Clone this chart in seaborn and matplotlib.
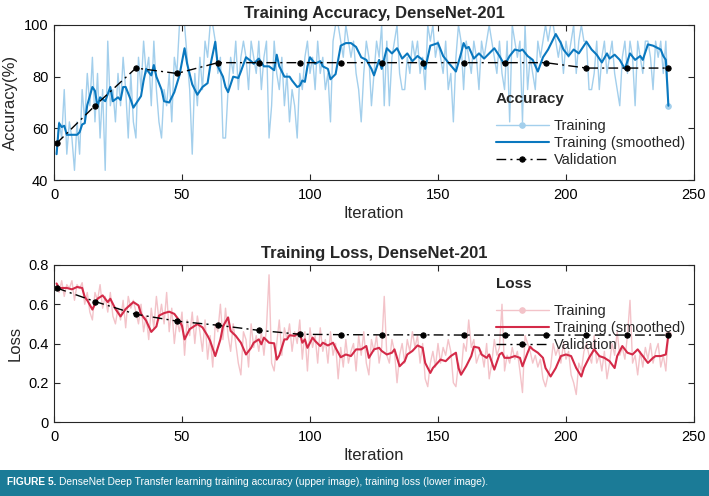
import numpy as np
import pandas as pd
import matplotlib
matplotlib.use("Agg")
import matplotlib.pyplot as plt
from matplotlib.patches import Rectangle
import seaborn as sns

# ---- accuracy data ----
acc_raw = [
    50, 62.5, 56.25, 75, 50, 62.5, 56.25, 43.75, 62.5, 50,
    75, 62.5, 81.25, 68.75, 87.5, 62.5, 81.25, 56.25, 75, 43.75,
    93.75, 68.75, 75, 62.5, 81.25, 68.75, 87.5, 75, 56.25, 81.25,
    62.5, 56.25, 87.5, 75, 93.75, 81.25, 87.5, 68.75, 93.75, 75,
    62.5, 56.25, 75, 68.75, 81.25, 62.5, 87.5, 81.25, 100, 100,
    100, 87.5, 75, 50, 81.25, 68.75, 87.5, 75, 93.75, 87.5,
    100, 100, 93.75, 81.25, 87.5, 56.25, 56.25, 75, 87.5, 81.25,
    93.75, 75, 87.5, 93.75, 87.5, 75, 93.75, 87.5, 81.25, 93.75,
    75, 87.5, 93.75, 56.25, 68.75, 93.75, 81.25, 75, 87.5, 68.75,
    81.25, 62.5, 75, 68.75, 56.25, 81.25, 75, 87.5, 93.75, 81.25,
    87.5, 75, 93.75, 81.25, 87.5, 75, 81.25, 62.5, 93.75, 100,
    100, 93.75, 87.5, 100, 93.75, 87.5, 93.75, 81.25, 75, 62.5,
    81.25, 93.75, 87.5, 68.75, 81.25, 93.75, 87.5, 100, 68.75, 93.75,
    68.75, 87.5, 93.75, 100, 81.25, 75, 75, 87.5, 81.25, 93.75,
    87.5, 93.75, 81.25, 87.5, 75, 100, 93.75, 100, 87.5, 93.75,
    87.5, 81.25, 93.75, 75, 81.25, 62.5, 87.5, 100, 93.75, 75,
    93.75, 87.5, 81.25, 93.75, 87.5, 75, 93.75, 87.5, 93.75, 100,
    93.75, 87.5, 81.25, 93.75, 81.25, 75, 93.75, 62.5, 100, 93.75,
    87.5, 93.75, 62.5, 100, 75, 87.5, 81.25, 75, 93.75, 87.5,
    93.75, 100, 93.75, 100, 100, 93.75, 87.5, 93.75, 81.25, 93.75,
    87.5, 93.75, 100, 81.25, 93.75, 100, 93.75, 93.75, 75, 75,
    81.25, 93.75, 75, 87.5, 93.75, 81.25, 87.5, 93.75, 81.25, 75,
    68.75, 87.5, 93.75, 81.25, 93.75, 87.5, 68.75, 93.75, 87.5, 81.25,
    93.75, 93.75, 87.5, 75, 93.75, 87.5, 93.75, 81.25, 93.75, 68.75,
]

acc_smooth_it = [
    1, 2, 3, 4, 5, 9, 10, 11, 12, 13, 15, 16, 17, 18, 20, 22, 23, 25, 26, 27,
    28, 30, 31, 34, 35, 36, 38, 39, 40, 42, 43, 45, 47, 49, 51, 52, 54, 56, 58, 60,
    61, 63, 64, 66, 67, 68, 70, 72, 73, 75, 77, 78, 80, 82, 84, 86, 87, 88, 90, 92,
    93, 95, 96, 97, 98, 99, 100, 102, 104, 105, 107, 108, 110, 112, 114, 116, 118, 120, 122, 124,
    125, 127, 128, 130, 132, 134, 136, 138, 140, 142, 144, 145, 147, 150, 152, 154, 157, 159, 160, 161,
    162, 164, 166, 168, 170, 172, 174, 176, 178, 180, 182, 183, 185, 187, 189, 191, 193, 194, 196, 198,
    199, 201, 203, 205, 206, 208, 210, 212, 214, 216, 217, 219, 221, 223, 225, 227, 229, 230, 232, 234,
    237, 238, 239, 240,
]
acc_smooth = [
    50, 62, 60.5, 61, 57.5, 57.5, 58.5, 61.5, 62, 69, 76, 74.5, 68.5, 72, 70.5, 76, 70.5, 72, 71, 76,
    76, 71, 68, 72.5, 78.5, 83, 80.5, 84.5, 80, 75, 70.5, 70, 74, 80.5, 91, 85, 77, 73, 76, 77.5,
    84, 93.5, 84, 80, 76, 74, 80, 79.5, 82, 87.5, 86, 85, 87, 84, 84, 82.5, 88.5, 84, 80, 80,
    78.5, 76, 76.5, 78.5, 78, 84, 87.5, 85, 86, 84, 83, 79, 81, 92, 93, 93, 91.5, 87.5, 86.5, 83,
    80.5, 86.5, 83, 91, 89, 91, 87, 89, 86, 88, 86.5, 83, 92, 93, 88, 85.5, 82, 89, 93, 91,
    91.5, 87, 89, 87, 89, 91, 88, 84.5, 88, 90.5, 90, 90.5, 88, 86.5, 82, 87.5, 90.5, 92.5, 96.5, 93,
    90.5, 88, 90.5, 89, 90.5, 93.5, 90.5, 88.5, 85.5, 89, 87, 88.5, 86.5, 83, 89, 86.5, 88, 86.5, 92.5, 92,
    90.5, 88, 86.5, 68.75,
]

val_it = [1, 16, 32, 48, 64, 80, 96, 112, 128, 144, 160, 176, 192, 208, 224, 240]
acc_val = [54.17, 68.75, 83.33, 81.25, 85.42, 85.42, 85.42, 85.42, 85.42,
           85.42, 85.42, 85.42, 85.42, 83.33, 83.33, 83.33]

# ---- loss data ----
loss_raw = [
    0.70, 0.66, 0.72, 0.64, 0.70, 0.68, 0.72, 0.62, 0.70, 0.68,
    0.71, 0.60, 0.66, 0.56, 0.52, 0.66, 0.62, 0.70, 0.58, 0.64,
    0.56, 0.66, 0.54, 0.50, 0.58, 0.52, 0.62, 0.48, 0.64, 0.58,
    0.62, 0.56, 0.50, 0.60, 0.46, 0.54, 0.42, 0.58, 0.48, 0.64,
    0.52, 0.60, 0.50, 0.66, 0.46, 0.58, 0.40, 0.52, 0.46, 0.56,
    0.34, 0.52, 0.44, 0.56, 0.40, 0.54, 0.46, 0.36, 0.52, 0.32,
    0.44, 0.28, 0.50, 0.46, 0.60, 0.42, 0.58, 0.44, 0.36, 0.50,
    0.40, 0.30, 0.24, 0.46, 0.42, 0.28, 0.50, 0.38, 0.44, 0.36,
    0.46, 0.34, 0.48, 0.75, 0.30, 0.26, 0.40, 0.52, 0.34, 0.48,
    0.42, 0.50, 0.36, 0.46, 0.40, 0.52, 0.32, 0.46, 0.26, 0.48,
    0.38, 0.44, 0.30, 0.48, 0.36, 0.42, 0.30, 0.46, 0.34, 0.40,
    0.22, 0.38, 0.28, 0.42, 0.30, 0.36, 0.40, 0.26, 0.44, 0.34,
    0.46, 0.30, 0.24, 0.42, 0.36, 0.44, 0.30, 0.38, 0.64, 0.34,
    0.30, 0.42, 0.36, 0.20, 0.34, 0.40, 0.30, 0.42, 0.36, 0.46,
    0.38, 0.44, 0.30, 0.40, 0.22, 0.18, 0.30, 0.36, 0.28, 0.40,
    0.30, 0.38, 0.34, 0.42, 0.36, 0.20, 0.18, 0.30, 0.24, 0.40,
    0.36, 0.52, 0.38, 0.42, 0.30, 0.34, 0.36, 0.28, 0.40, 0.22,
    0.30, 0.42, 0.34, 0.38, 0.60, 0.26, 0.34, 0.30, 0.38, 0.32,
    0.36, 0.26, 0.15, 0.44, 0.40, 0.36, 0.30, 0.34, 0.28, 0.32,
    0.22, 0.18, 0.24, 0.28, 0.40, 0.34, 0.38, 0.30, 0.40, 0.32,
    0.36, 0.24, 0.20, 0.14, 0.30, 0.26, 0.36, 0.40, 0.34, 0.30,
    0.44, 0.30, 0.34, 0.26, 0.36, 0.22, 0.30, 0.40, 0.34, 0.46,
    0.34, 0.38, 0.32, 0.44, 0.62, 0.30, 0.34, 0.24, 0.36, 0.28,
    0.38, 0.32, 0.40, 0.30, 0.36, 0.40, 0.28, 0.34, 0.26, 0.45,
]

loss_smooth_it = [
    1, 2, 5, 7, 9, 11, 12, 13, 15, 17, 19, 20, 21, 22, 24, 26, 28, 31, 33, 34,
    36, 38, 40, 41, 43, 45, 47, 49, 50, 51, 53, 56, 58, 60, 61, 63, 65, 66, 68, 69,
    71, 73, 75, 77, 78, 80, 81, 82, 84, 86, 87, 88, 90, 91, 92, 94, 96, 97, 98, 99,
    101, 102, 104, 105, 107, 109, 110, 112, 114, 116, 118, 120, 122, 123, 125, 127, 128, 130, 132, 133,
    135, 137, 138, 140, 142, 144, 145, 147, 148, 151, 153, 155, 157, 158, 159, 161, 163, 164, 166, 167,
    169, 170, 172, 174, 175, 176, 178, 180, 182, 183, 185, 186, 187, 189, 191, 192, 194, 196, 198, 200,
    202, 204, 206, 207, 209, 211, 213, 215, 217, 219, 220, 222, 224, 226, 228, 230, 232, 234, 235, 237,
    239, 240,
]
loss_smooth = [
    0.706, 0.683, 0.683, 0.676, 0.688, 0.683, 0.637, 0.62, 0.573, 0.628, 0.645, 0.628, 0.611, 0.628, 0.576, 0.538, 0.576, 0.611, 0.594, 0.551,
    0.516, 0.459, 0.487, 0.542, 0.555, 0.562, 0.551, 0.516, 0.49, 0.421, 0.473, 0.499, 0.482, 0.439, 0.413, 0.336, 0.421, 0.487, 0.533, 0.464,
    0.439, 0.404, 0.344, 0.378, 0.404, 0.421, 0.396, 0.43, 0.404, 0.401, 0.318, 0.339, 0.421, 0.421, 0.442, 0.439, 0.456, 0.404, 0.421, 0.378,
    0.43, 0.413, 0.387, 0.404, 0.39, 0.404, 0.378, 0.33, 0.344, 0.336, 0.37, 0.37, 0.387, 0.327, 0.37, 0.378, 0.362, 0.344, 0.353, 0.37,
    0.284, 0.31, 0.344, 0.362, 0.39, 0.378, 0.301, 0.25, 0.275, 0.318, 0.31, 0.336, 0.353, 0.275, 0.241, 0.284, 0.336, 0.384, 0.378, 0.344,
    0.327, 0.344, 0.267, 0.344, 0.353, 0.327, 0.327, 0.336, 0.327, 0.284, 0.353, 0.384, 0.37, 0.353, 0.327, 0.275, 0.232, 0.275, 0.336, 0.344,
    0.336, 0.275, 0.232, 0.275, 0.327, 0.37, 0.336, 0.327, 0.31, 0.275, 0.336, 0.387, 0.353, 0.344, 0.37, 0.336, 0.301, 0.327, 0.336, 0.336,
    0.344, 0.447,
]

loss_val = [0.683, 0.614, 0.549, 0.514, 0.493, 0.467, 0.447, 0.445, 0.444,
            0.444, 0.443, 0.443, 0.443, 0.443, 0.443, 0.443]

iters = np.arange(1, len(acc_raw) + 1)

sns.set_style("ticks")
plt.rcParams['font.family'] = ['Liberation Sans', 'DejaVu Sans']

W, H = 709, 496
fig = plt.figure(figsize=(W / 100, H / 100), dpi=100)
fig.patch.set_facecolor('white')

ax1 = fig.add_axes([54 / W, 1 - 180 / H, 640 / W, 155 / H])
ax2 = fig.add_axes([54 / W, 1 - 422 / H, 640 / W, 157 / H])

dashdot = (0, (7, 3, 1.5, 3))


def draw_panel(ax, raw, sm_x, sm_y, val, raw_c, sm_c, title, ylabel, ylim, yticks, leg_title, leg_xy):
    sns.lineplot(x=iters, y=raw, ax=ax, color=raw_c, lw=1.0, marker='o', markersize=4,
                 markeredgecolor=raw_c, markevery=[len(raw) - 1], label='Training')
    sns.lineplot(x=sm_x, y=sm_y, ax=ax, color=sm_c, lw=1.5, label='Training (smoothed)')
    sns.lineplot(x=val_it, y=val, ax=ax, color='black', lw=1.0, linestyle=dashdot,
                 marker='o', markersize=3.8, markeredgecolor='black', label='Validation')
    ax.set_xlim(0, 250)
    ax.set_ylim(*ylim)
    ax.set_xticks([0, 50, 100, 150, 200, 250])
    ax.set_yticks(yticks)
    ax.set_yticklabels([f'{t:g}' for t in yticks])
    ax.tick_params(direction='in', length=4, width=0.8, labelsize=10.5, pad=6,
                   top=True, right=True, colors='#262626', labelcolor='black')
    ax.tick_params(axis='y', pad=4)
    for s in ax.spines.values():
        s.set_visible(True)
        s.set_color('#262626')
        s.set_linewidth(0.8)
    ax.set_title(title, fontsize=12, fontweight='bold', pad=5)
    ax.set_xlabel('Iteration', fontsize=12, labelpad=3)
    ax.set_ylabel(ylabel, fontsize=12, labelpad=4)
    leg = ax.legend(loc='upper left', bbox_to_anchor=leg_xy, bbox_transform=fig.transFigure,
                    frameon=False, fontsize=10.5, title=leg_title, alignment='left',
                    title_fontproperties={'weight': 'bold', 'size': 11},
                    handlelength=3.6, handletextpad=0.35, labelspacing=0.2,
                    borderpad=0, borderaxespad=0)
    # extra room between the legend title and its entries
    leg._legend_box.sep = 9.5
    return leg


draw_panel(ax1, acc_raw, acc_smooth_it, acc_smooth, acc_val, '#a3cfec', '#0a78bf',
           'Training Accuracy, DenseNet-201', 'Accuracy(%)', (40, 100), [40, 60, 80, 100],
           'Accuracy', (496 / W, 1 - 92 / H))
draw_panel(ax2, loss_raw, loss_smooth_it, loss_smooth, loss_val, '#f3c3c9', '#d42a48',
           'Training Loss, DenseNet-201', 'Loss', (0, 0.8), [0, 0.2, 0.4, 0.6, 0.8],
           'Loss', (496 / W, 1 - 277 / H))

# caption bar
fig.patches.append(Rectangle((0, 0), 1, 26 / H, transform=fig.transFigure,
                             facecolor='#1b7b97', edgecolor='none', zorder=0))
fig.text(7 / W, 14 / H, 'FIGURE 5.', color='white', fontsize=7.3, fontweight='bold',
         va='center', ha='left')
fig.text(59 / W, 14 / H,
         'DenseNet Deep Transfer learning training accuracy (upper image), training loss (lower image).',
         color='white', fontsize=7.4, va='center', ha='left')

fig.savefig('out.png', dpi=100)
